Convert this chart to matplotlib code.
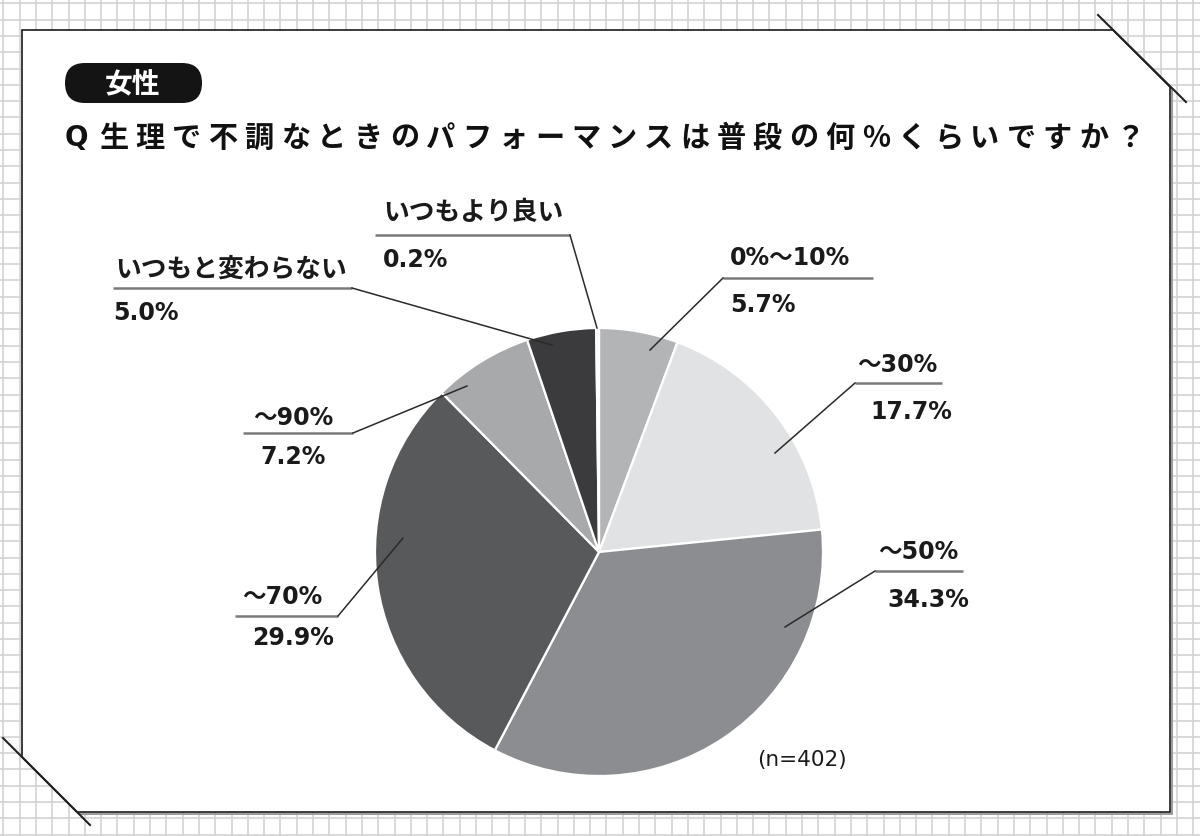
import numpy as np
import matplotlib
matplotlib.use("Agg")
import matplotlib.pyplot as plt
from matplotlib.patches import Polygon, FancyBboxPatch

# ---------------- data ----------------
categories = ["0%〜10%", "〜30%", "〜50%", "〜70%", "〜90%", "いつもと変わらない", "いつもより良い"]
values = [5.7, 17.7, 34.3, 29.9, 7.2, 5.0, 0.2]
colors = ["#b3b4b6", "#e1e2e3", "#8c8d90", "#58595b", "#a8a9ab", "#3b3b3d", "#f2f2f2"]
badge_text = "女性"
question = "Q 生理で不調なときのパフォーマンスは普段の何%くらいですか？"
sample_note = "(n=402)"

JP = ["Noto Sans CJK JP", "DejaVu Sans"]
LAT = ["DejaVu Sans", "Noto Sans CJK JP"]
plt.rcParams["font.family"] = JP

W, H = 1200, 836
fig = plt.figure(figsize=(W / 100, H / 100), dpi=100)
ax = fig.add_axes([0, 0, 1, 1])

# ---------------- pie ----------------
cx, cy, R = 599, 552, 224
wedges, _ = ax.pie(values, colors=colors, startangle=-90, counterclock=True,
                   center=(cx, cy), radius=R,
                   wedgeprops=dict(edgecolor="white", linewidth=1.6, zorder=3))

ax.set_xlim(0, W)
ax.set_ylim(H, 0)
ax.axis("off")

# ---------------- background grid paper ----------------
for x in np.arange(3.3, W, 16.3):
    ax.plot([x, x], [0, H], color="#d3d3d3", lw=1.2, zorder=0)
for y in np.arange(3.3, H, 16.3):
    ax.plot([0, W], [y, y], color="#d3d3d3", lw=1.2, zorder=0)

# ---------------- card ----------------
card = [(22, 30), (1113, 30), (1170, 87), (1170, 812), (77, 812), (22, 757)]
ax.add_patch(Polygon([(x + 2, y + 2) for x, y in card], closed=True,
                     facecolor="none", edgecolor="#9a9a9a", lw=1.4, zorder=1))
ax.add_patch(Polygon(card, closed=True, facecolor="white", edgecolor="#1a1a1a",
                     lw=1.2, zorder=1.1))
ax.plot([1098, 1186], [15, 102], color="#222222", lw=1.5, zorder=1.2)
ax.plot([3, 90], [738, 825], color="#222222", lw=1.5, zorder=1.2)

# ---------------- badge ----------------
ax.add_patch(FancyBboxPatch((65, 63), 137, 40,
                            boxstyle="round,pad=0,rounding_size=20",
                            facecolor="#141414", edgecolor="none", zorder=2))
ax.text(133, 84, badge_text, color="white", fontsize=20, fontweight="bold",
        ha="center", va="center", family=JP, zorder=4)

# ---------------- question (letter-spaced) ----------------
ax.text(76, 138, question[0], fontsize=20, fontweight="bold", ha="center",
        va="center", family=LAT, color="#111111", zorder=4)
body = question[2:]
x0, x1 = 114, 1130
pitch = (x1 - x0) / (len(body) - 1)
for i, ch in enumerate(body):
    ax.text(x0 + i * pitch, 138, ch, fontsize=21, fontweight="bold",
            ha="center", va="center", family=JP, color="#111111", zorder=4)

# ---------------- labels ----------------
label_layout = [
    (730, 258, 730, 305, 723, 873, 278, (650, 350), "left"),
    (857, 365, 870, 412, 855, 942, 383, (775, 453), "left"),
    (878, 552, 887, 600, 875, 963, 571, (785, 627), "left"),
    (242, 597, 252, 638, 235, 338, 616, (403, 538), "right"),
    (253, 418, 260, 457, 243, 353, 433, (467, 386), "right"),
    (115, 270, 113, 313, 113, 352, 288, (552, 345), "right"),
    (383, 213, 383, 260, 375, 570, 235, (597, 328), "right"),
]
for name, val, lay in zip(categories, values, label_layout):
    nx, ny, px, py, ux0, ux1, uy, end, side = lay
    has_digit = any(c.isdigit() for c in name)
    ax.text(nx, ny, name, fontsize=17 if has_digit else 18.5, fontweight="bold",
            ha="left", va="center", family=LAT, color="#1a1a1a", zorder=4)
    ax.text(px, py, f"{val:.1f}%", fontsize=17, fontweight="bold", ha="left",
            va="center", family=LAT, color="#1a1a1a", zorder=4)
    ax.plot([ux0, ux1], [uy, uy], color="#7a7a7a", lw=1.8, zorder=4,
            solid_capstyle="butt")
    sx = ux0 if side == "left" else ux1
    ax.plot([sx, end[0]], [uy, end[1]], color="#2a2a2a", lw=1.1, zorder=4)

ax.text(757, 760, sample_note, fontsize=15.5, ha="left", va="center",
        family=LAT, color="#1a1a1a", zorder=4)

fig.savefig("out.png", dpi=100, facecolor="white")
